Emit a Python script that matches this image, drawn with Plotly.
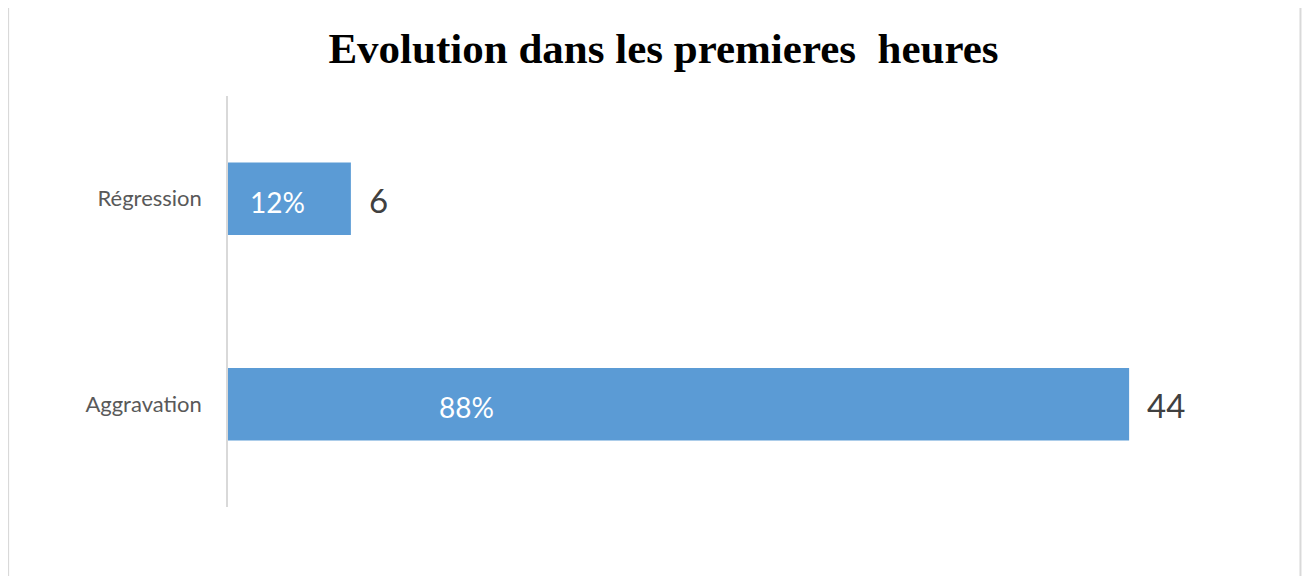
import plotly.graph_objects as go

categories = ["Aggravation", "Régression"]
counts = [44, 6]
percent_labels = ["88%", "12%"]
pct_label_x = [11.66, 2.44]
pct_label_sizes = [28, 28]
count_label_sizes = [33, 33]

title_text = "<b>Evolution dans les premieres\u00a0 heures</b>"

# page body has an 8px offset; figure covers page pixels 8..1310 / 8..576
OFF = 8
W, H = 1310 - OFF, 576 - OFF
L, R, T, B = 228 - OFF, 57.5, 95.5 - OFF, 68.5
pw, ph = W - L - R, H - T - B

fig = go.Figure()
fig.add_trace(go.Bar(
    y=categories, x=counts, orientation="h",
    marker=dict(color="#5B9BD5", line=dict(width=0)),
    width=0.354, hoverinfo="skip",
))

ann = []
for c, v, p, px_, ps, cs in zip(categories, counts, percent_labels, pct_label_x, pct_label_sizes, count_label_sizes):
    ann.append(dict(x=px_, y=c, xref="x", yref="y", text=p, showarrow=False,
                    xanchor="center", yanchor="middle", yshift=-3,
                    font=dict(family="Lato", size=ps, color="white")))
    ann.append(dict(x=v, y=c, xref="x", yref="y", text=str(v), showarrow=False,
                    xanchor="left", yanchor="middle", xshift=16, yshift=-1,
                    font=dict(family="Lato", size=cs, color="#404040")))

fig.update_layout(
    width=W, height=H,
    margin=dict(l=L, r=R, t=T, b=B, autoexpand=False),
    paper_bgcolor="white", plot_bgcolor="white",
    showlegend=False,
    title=dict(text=title_text, xref="container", yref="container",
               x=(663.5 - OFF) / W, y=1 - (48 - OFF) / H, xanchor="center", yanchor="middle",
               font=dict(family="Liberation Serif", size=43, color="black")),
    xaxis=dict(range=[0, 50], visible=False, fixedrange=True),
    yaxis=dict(showline=True, linecolor="#d9d9d9", linewidth=1.5,
               showgrid=False, zeroline=False, ticks="",
               ticklabelstandoff=20,
               tickfont=dict(family="Lato", size=22, color="#595959"),
               range=[-0.5, 1.5]),
    annotations=ann,
    shapes=[dict(type="rect", xref="paper", yref="paper",
                 x0=(8 - 228) / pw, x1=(1301 - 228) / pw,
                 y0=(507.5 - 590) / ph, y1=(507.5 - 5) / ph,
                 line=dict(color="#d9d9d9", width=2), fillcolor="rgba(0,0,0,0)",
                 layer="below")],
)

fig.write_html("out.html")
